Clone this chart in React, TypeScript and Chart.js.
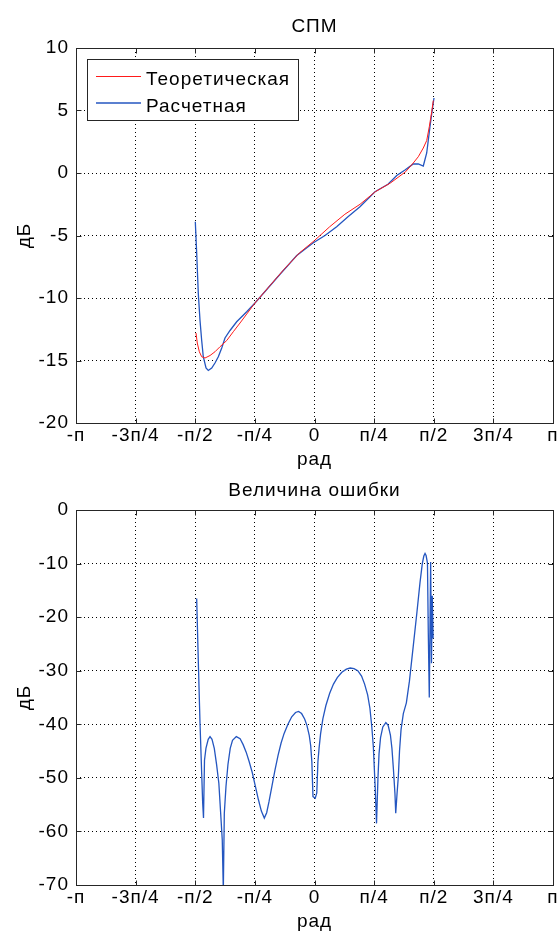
import React, { useEffect, useRef } from 'react';
import { Chart, registerables } from 'chart.js';

Chart.register(...registerables);

const PI = Math.PI;

// ---- tick definitions ----
const xTickValues = [-PI, -3 * PI / 4, -PI / 2, -PI / 4, 0, PI / 4, PI / 2, 3 * PI / 4, PI];
const xTickLabels = ['-п', '-3п/4', '-п/2', '-п/4', '0', 'п/4', 'п/2', '3п/4', 'п'];
const spmYTicks = [-20, -15, -10, -5, 0, 5, 10];
const spmYTickLabels = ['-20', '-15', '-10', '-5', '0', '5', '10'];
const errYTicks = [-70, -60, -50, -40, -30, -20, -10, 0];
const errYTickLabels = ['-70', '-60', '-50', '-40', '-30', '-20', '-10', '0'];

// ---- series: СПМ (dB vs rad) ----
const theorX = [-1.561, -1.544, -1.517, -1.486, -1.442, -1.376, -1.311, -1.245, -1.156, -1.070, -0.981, -0.784, -0.600, -0.400, -0.200, 0.000, 0.200, 0.400, 0.600, 0.800, 1.000, 1.200, 1.301, 1.367, 1.433, 1.478, 1.512, 1.544, 1.565];
const theorY = [-12.8, -13.6, -14.3, -14.7, -14.8, -14.6, -14.3, -13.9, -13.4, -12.7, -12.0, -10.4, -9.1, -7.7, -6.4, -5.4, -4.3, -3.3, -2.5, -1.5, -0.8, 0.1, 0.8, 1.3, 2.0, 2.6, 3.7, 4.9, 5.8];

const calcX = [-1.570, -1.552, -1.531, -1.508, -1.486, -1.465, -1.429, -1.399, -1.354, -1.311, -1.267, -1.222, -1.179, -1.113, -1.025, -0.893, -0.784, -0.612, -0.454, -0.234, -0.020, 0.138, 0.292, 0.441, 0.599, 0.797, 0.968, 1.083, 1.192, 1.301, 1.367, 1.433, 1.478, 1.521, 1.557, 1.574];
const calcY = [-3.9, -6.4, -9.6, -11.8, -13.4, -14.7, -15.6, -15.8, -15.6, -15.2, -14.7, -14.0, -13.2, -12.6, -11.9, -11.1, -10.4, -9.2, -8.1, -6.6, -5.6, -5.0, -4.3, -3.5, -2.7, -1.5, -0.9, -0.2, 0.24, 0.72, 0.72, 0.56, 1.6, 3.7, 5.3, 6.0];

// ---- series: Величина ошибки (dB vs rad) ----
const errX = [-1.552, -1.531, -1.508, -1.486, -1.473, -1.462, -1.449, -1.430, -1.400, -1.376, -1.350, -1.320, -1.290, -1.260, -1.236, -1.215, -1.201, -1.188, -1.166, -1.140, -1.110, -1.080, -1.030, -0.980, -0.940, -0.900, -0.860, -0.820, -0.780, -0.740, -0.700, -0.661, -0.630, -0.600, -0.560, -0.520, -0.480, -0.440, -0.400, -0.350, -0.300, -0.250, -0.210, -0.170, -0.130, -0.100, -0.070, -0.050, -0.035, -0.020, 0.010, 0.030, 0.045, 0.060, 0.080, 0.110, 0.150, 0.200, 0.250, 0.300, 0.360, 0.420, 0.470, 0.520, 0.570, 0.620, 0.660, 0.700, 0.730, 0.755, 0.775, 0.800, 0.817, 0.836, 0.850, 0.870, 0.900, 0.940, 0.970, 1.000, 1.020, 1.040, 1.060, 1.070, 1.087, 1.104, 1.120, 1.140, 1.170, 1.210, 1.250, 1.300, 1.350, 1.390, 1.420, 1.440, 1.456, 1.470, 1.488, 1.499, 1.512, 1.530, 1.541, 1.551, 1.562];
const errY = [-16.5, -28, -39.8, -49.2, -54.7, -57.5, -46.7, -44.5, -42.8, -42.3, -42.8, -44.5, -47.5, -51, -56.6, -61.6, -71, -56.6, -51.6, -47.5, -44.5, -43, -42.3, -42.7, -43.8, -45.2, -47, -49, -51.5, -54, -56.2, -57.5, -56.5, -54.5, -51.5, -48.5, -45.8, -43.5, -41.7, -40, -38.6, -37.8, -37.6, -38, -39, -40.2, -42, -44, -47, -53.5, -53.8, -52.8, -47, -44.5, -41.8, -39, -36.5, -34.2, -32.5, -31.3, -30.3, -29.7, -29.5, -29.6, -30, -31, -32.5, -34.5, -37, -40.5, -44.2, -52, -58.5, -50, -45.5, -42.5, -40.5, -39.7, -40.2, -42, -44.5, -48.5, -53, -56.6, -53, -49.8, -45, -41, -38, -36, -32, -25.5, -19, -13.5, -10, -8.6, -8.1, -8.5, -9.9, -23, -35, -9.7, -28.6, -16, -24];

const RED = '#ff1a1a';
const BLUE = '#2456c0';
const FONT_FAMILY = '"Liberation Sans", Arial, Helvetica, sans-serif';
const FONT_SIZE = 19;
const FONT = FONT_SIZE + 'px ' + FONT_FAMILY;

const pts = (xs: number[], ys: number[]) => xs.map((x, i) => ({ x, y: ys[i] }));

const decorPlugin = {
  id: 'decor',
  beforeDraw(chart: any) {
    chart.ctx.letterSpacing = '1px';
  },
  afterDraw(chart: any, _args: any, opts: any) {
    const ctx = chart.ctx;
    const { left, right, top, bottom } = chart.chartArea;
    const xs = chart.scales.x;
    const ys = chart.scales.y;
    ctx.save();
    ctx.letterSpacing = '1px';
    ctx.setLineDash([]);
    ctx.strokeStyle = '#262626';
    ctx.lineWidth = 1;
    ctx.strokeRect(left + 0.5, top + 0.5, right - left, bottom - top);
    // inside tick marks
    const tl = 5;
    ctx.beginPath();
    xs.ticks.forEach((t: any) => {
      const px = Math.round(xs.getPixelForValue(t.value)) + 0.5;
      ctx.moveTo(px, bottom + 0.5);
      ctx.lineTo(px, bottom + 0.5 - tl);
      ctx.moveTo(px, top + 0.5);
      ctx.lineTo(px, top + 0.5 + tl);
    });
    ys.ticks.forEach((t: any) => {
      const py = Math.round(ys.getPixelForValue(t.value)) + 0.5;
      ctx.moveTo(left + 0.5, py);
      ctx.lineTo(left + 0.5 + tl, py);
      ctx.moveTo(right + 0.5, py);
      ctx.lineTo(right + 0.5 - tl, py);
    });
    ctx.stroke();

    ctx.fillStyle = '#000';
    ctx.font = FONT;
    ctx.textBaseline = 'alphabetic';
    ctx.textAlign = 'center';
    const cx = (left + right) / 2;
    ctx.fillText(opts.title, cx, opts.titleY);
    ctx.fillText(opts.xlabel, cx, opts.xlabelY);
    ctx.save();
    ctx.translate(opts.ylabelX, (top + bottom) / 2);
    ctx.rotate(-Math.PI / 2);
    ctx.fillText(opts.ylabel, 0, 0);
    ctx.restore();

    if (opts.legend) {
      const L = opts.legend;
      ctx.fillStyle = '#fff';
      ctx.fillRect(L.x, L.y, L.w, L.h);
      ctx.strokeStyle = '#262626';
      ctx.lineWidth = 1;
      ctx.strokeRect(L.x + 0.5, L.y + 0.5, L.w, L.h);
      chart.data.datasets.forEach((ds: any, i: number) => {
        const ly = L.rowY[i];
        ctx.strokeStyle = ds.borderColor;
        ctx.lineWidth = ds.borderWidth;
        ctx.beginPath();
        ctx.moveTo(L.lineX0, ly + 0.5);
        ctx.lineTo(L.lineX1, ly + 0.5);
        ctx.stroke();
        ctx.fillStyle = '#000';
        ctx.textAlign = 'left';
        ctx.fillText(ds.label, L.textX, ly + 9);
      });
    }
    ctx.restore();
  },
};

function makeConfig(opts: {
  H: number; top: number; bottom: number; yMin: number; yMax: number;
  yTicks: number[]; yTickLabels: string[]; datasets: any[]; decor: any;
}) {
  const { H, top, bottom, yMin, yMax, yTicks, yTickLabels, datasets, decor } = opts;
  return {
    type: 'line' as const,
    data: { datasets },
    plugins: [decorPlugin],
    options: {
      animation: false,
      responsive: false,
      maintainAspectRatio: false,
      layout: { padding: { top, right: 7, left: 0, bottom: 0 } },
      elements: { point: { radius: 0 }, line: { tension: 0 } },
      plugins: {
        legend: { display: false },
        tooltip: { enabled: false },
        decor,
      },
      scales: {
        x: {
          type: 'linear',
          min: -PI,
          max: PI,
          afterBuildTicks: (s: any) => { s.ticks = xTickValues.map((v) => ({ value: v })); },
          afterFit: (s: any) => { s.height = H - bottom; s.paddingLeft = 0; s.paddingRight = 0; },
          ticks: {
            autoSkip: false, maxRotation: 0, minRotation: 0, padding: 1,
            color: '#000', font: { family: FONT_FAMILY, size: FONT_SIZE },
            callback: (_v: any, i: number) => xTickLabels[i],
          },
          grid: { color: '#000', lineWidth: 1, drawTicks: false },
          border: { display: false, dash: [1, 3] },
        },
        y: {
          type: 'linear',
          min: yMin,
          max: yMax,
          afterBuildTicks: (s: any) => { s.ticks = yTicks.map((v) => ({ value: v })); },
          afterFit: (s: any) => { s.width = 76; s.paddingTop = 0; s.paddingBottom = 0; },
          ticks: {
            padding: 7, color: '#000', font: { family: FONT_FAMILY, size: FONT_SIZE },
            callback: (_v: any, i: number) => yTickLabels[i],
          },
          grid: { color: '#000', lineWidth: 1, drawTicks: false },
          border: { display: false, dash: [1, 3] },
        },
      },
    },
  };
}

function ChartCanvas({ config, height }: { config: any; height: number }) {
  const ref = useRef<HTMLCanvasElement | null>(null);
  useEffect(() => {
    if (!ref.current) return;
    const chart = new Chart(ref.current, config);
    return () => chart.destroy();
  }, []);
  return <canvas ref={ref} width={560} height={height} style={{ display: 'block', width: 560, height }} />;
}

const TOP_H = 472;
const BOT_H = 460;

const topConfig = makeConfig({
  H: TOP_H, top: 48, bottom: 423, yMin: -20, yMax: 10,
  yTicks: spmYTicks, yTickLabels: spmYTickLabels,
  datasets: [
    { label: 'Теоретическая', data: pts(theorX, theorY), borderColor: RED, borderWidth: 1, fill: false },
    { label: 'Расчетная', data: pts(calcX, calcY), borderColor: BLUE, borderWidth: 1.3, fill: false },
  ],
  decor: {
    title: 'СПМ', titleY: 32, xlabel: 'рад', xlabelY: 465, ylabel: 'дБ', ylabelX: 30,
    legend: { x: 87, y: 59, w: 211, h: 61, lineX0: 96, lineX1: 141, textX: 146, rowY: [76, 102.5] },
  },
});

const botConfig = makeConfig({
  H: BOT_H, top: 38, bottom: 413, yMin: -70, yMax: 0,
  yTicks: errYTicks, yTickLabels: errYTickLabels,
  datasets: [
    { label: 'Ошибка', data: pts(errX, errY), borderColor: BLUE, borderWidth: 1.3, fill: false },
  ],
  decor: {
    title: 'Величина ошибки', titleY: 23.5, xlabel: 'рад', xlabelY: 455, ylabel: 'дБ', ylabelX: 30,
  },
});

export default function App() {
  return (
    <div style={{ position: 'absolute', left: 0, top: 0, width: 560, height: 932, background: '#fff' }}>
      <ChartCanvas config={topConfig} height={TOP_H} />
      <ChartCanvas config={botConfig} height={BOT_H} />
    </div>
  );
}
